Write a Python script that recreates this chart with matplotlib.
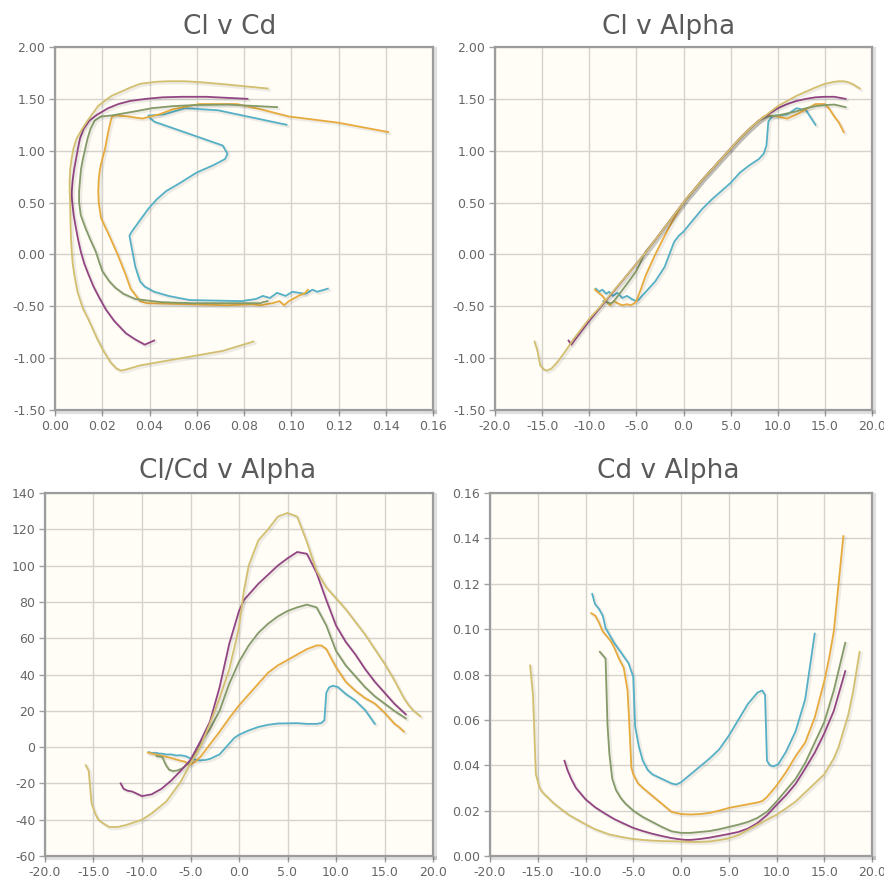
import matplotlib
matplotlib.use("Agg")
import matplotlib.pyplot as plt
import matplotlib.patheffects as pe
from matplotlib.ticker import MultipleLocator, FormatStrFormatter

plt.rcParams['font.family'] = ['DejaVu Sans']
plt.rcParams['axes.unicode_minus'] = False

# ---------------- data ----------------
# khaki series
alpha_khaki = [-15.8, -15.5, -15.2, -14.8, -14.5, -14.0, -13.4, -12.5, -11.7, -10.0,
               -9.0, -7.5, -6.0, -5.0, -4.0, -3.0, -2.0, -1.0, 0.0, 0.5,
               1.0, 2.0, 3.0, 4.0, 5.0, 6.0, 7.0, 8.0, 9.0, 10.0,
               11.0, 12.0, 13.0, 14.0, 15.0, 16.0, 16.5, 17.0, 17.5, 18.0, 18.7]
cl_khaki = [-0.84, -0.93, -1.07, -1.11, -1.12, -1.10, -1.04, -0.93, -0.82, -0.62,
            -0.52, -0.36, -0.20, -0.09, 0.02, 0.14, 0.26, 0.38, 0.50, 0.56,
            0.61, 0.72, 0.82, 0.92, 1.02, 1.12, 1.21, 1.29, 1.36, 1.43,
            1.48, 1.53, 1.57, 1.61, 1.645, 1.665, 1.67, 1.67, 1.66, 1.64, 1.60]
cd_khaki = [0.084, 0.071, 0.036, 0.030, 0.028, 0.026, 0.0235, 0.0205, 0.018, 0.014,
            0.0118, 0.0095, 0.0082, 0.0075, 0.0071, 0.0068, 0.0066, 0.0065, 0.0064, 0.0063,
            0.0062, 0.0062, 0.0064, 0.0070, 0.0078, 0.0092, 0.0115, 0.0138, 0.0160, 0.0182,
            0.021, 0.024, 0.028, 0.032, 0.036, 0.043, 0.048, 0.055, 0.062, 0.072, 0.090]
clcd_khaki = [-10, -13, -31, -37, -40, -42, -44, -44, -43, -40,
              -36.5, -30, -19, -9, 0, 13, 27, 43, 66, 86,
              100, 114, 120, 127, 129, 127, 113, 97, 88, 82,
              76, 69, 62, 54, 46, 37, 32, 27, 23, 20, 17]

# purple series
alpha_purple = [-12.2, -11.9, -11.5, -11.0, -10.0, -9.0, -8.0, -7.0, -6.0, -5.0,
                -4.0, -3.0, -2.0, -1.0, 0.0, 0.5, 1.0, 2.0, 3.0, 4.0,
                5.0, 6.0, 7.0, 8.0, 9.0, 10.0, 11.0, 12.0, 13.0, 14.0,
                15.0, 16.0, 17.2]
cl_purple = [-0.83, -0.87, -0.82, -0.76, -0.64, -0.53, -0.42, -0.31, -0.20, -0.09,
             0.02, 0.14, 0.26, 0.38, 0.50, 0.56, 0.61, 0.72, 0.82, 0.92,
             1.02, 1.12, 1.21, 1.29, 1.35, 1.41, 1.45, 1.48, 1.50, 1.515,
             1.52, 1.52, 1.50]
cd_purple = [0.042, 0.038, 0.034, 0.030, 0.025, 0.0215, 0.0188, 0.0163, 0.0143, 0.0124,
             0.011, 0.0098, 0.0088, 0.0079, 0.0073, 0.0071, 0.0071, 0.0075, 0.0081, 0.0089,
             0.0097, 0.0106, 0.0121, 0.0145, 0.018, 0.0225, 0.0268, 0.0318, 0.0385, 0.0455,
             0.054, 0.064, 0.0815]
clcd_purple = [-20, -23, -24, -24.5, -27, -26, -23, -18.5, -13, -7,
               3, 14, 33, 57, 75, 81, 84, 90, 95, 100,
               104, 107.5, 106.5, 96, 81, 67, 58, 51, 43, 36,
               30, 24, 18]

# olive green series
alpha_green = [-8.5, -8.1, -7.9, -7.7, -7.5, -7.2, -6.8, -6.3, -5.8, -5.0,
               -4.0, -3.0, -2.0, -1.0, 0.0, 1.0, 2.0, 3.0, 4.0, 5.0,
               6.0, 7.0, 8.0, 9.0, 10.0, 11.0, 12.0, 13.0, 14.0, 15.0,
               16.0, 17.2]
cl_green = [-0.45, -0.46, -0.47, -0.47, -0.46, -0.43, -0.38, -0.32, -0.26, -0.16,
            0.03, 0.14, 0.26, 0.38, 0.50, 0.61, 0.72, 0.82, 0.92, 1.02,
            1.12, 1.21, 1.29, 1.33, 1.34, 1.36, 1.38, 1.41, 1.43, 1.44,
            1.445, 1.42]
cd_green = [0.090, 0.088, 0.087, 0.058, 0.045, 0.034, 0.029, 0.0255, 0.023, 0.020,
            0.0172, 0.015, 0.0128, 0.0109, 0.0102, 0.0102, 0.0106, 0.011, 0.0118, 0.0128,
            0.0138, 0.015, 0.0168, 0.0195, 0.024, 0.029, 0.034, 0.041, 0.050, 0.059,
            0.073, 0.094]
clcd_green = [-5, -5.2, -5.5, -8, -10.2, -12.5, -13.2, -12.8, -11.5, -8,
              2, 10, 20, 35, 47, 56, 63, 68, 72, 75,
              77, 78.5, 77, 67, 53, 45, 39, 33, 28, 24,
              20, 15.8]

# orange series
alpha_orange = [-9.4, -9.0, -8.6, -8.2, -7.8, -7.4, -7.0, -6.5, -6.0, -5.6,
                -5.4, -5.2, -5.0, -4.5, -4.0, -3.0, -2.0, -1.0, 0.0, 1.0,
                2.0, 3.0, 4.0, 5.0, 6.0, 7.0, 8.0, 8.5, 9.0, 10.0,
                11.0, 12.0, 13.0, 14.0, 15.0, 15.5, 16.0, 16.5, 17.0]
cl_orange = [-0.34, -0.37, -0.40, -0.45, -0.49, -0.45, -0.47, -0.49, -0.48, -0.49,
             -0.48, -0.47, -0.45, -0.33, -0.20, 0.00, 0.18, 0.35, 0.50, 0.61,
             0.72, 0.82, 0.92, 1.02, 1.12, 1.21, 1.29, 1.33, 1.34, 1.33,
             1.31, 1.35, 1.40, 1.45, 1.45, 1.40, 1.33, 1.27, 1.18]
cd_orange = [0.107, 0.106, 0.103, 0.099, 0.097, 0.095, 0.092, 0.087, 0.083, 0.073,
             0.057, 0.039, 0.036, 0.032, 0.030, 0.0265, 0.023, 0.0195, 0.0185, 0.0183,
             0.0185, 0.019, 0.020, 0.0212, 0.022, 0.0228, 0.0236, 0.0242, 0.026, 0.031,
             0.037, 0.044, 0.050, 0.061, 0.077, 0.087, 0.099, 0.120, 0.141]
clcd_orange = [-3, -3.5, -4, -4.5, -5, -5.5, -6, -6.8, -7.5, -8,
               -8.6, -9.5, -9.5, -8, -5.5, 1.5, 8.5, 16, 23, 29,
               35, 41, 45, 48, 51, 54, 56, 56, 54, 44,
               36, 31, 27, 24, 19, 16, 13, 11, 8.5]

# teal series
alpha_teal = [-9.3, -9.0, -8.6, -8.2, -7.9, -7.5, -7.0, -6.5, -6.0, -5.5,
              -5.0, -4.8, -4.4, -4.0, -3.5, -3.0, -2.0, -1.0, -0.5, 0.0,
              1.0, 2.0, 3.0, 4.0, 5.0, 6.0, 7.0, 8.0, 8.5, 8.8,
              9.0, 9.3, 9.7, 10.2, 11.0, 12.0, 13.0, 14.0]
cl_teal = [-0.33, -0.36, -0.34, -0.38, -0.36, -0.40, -0.37, -0.42, -0.40, -0.43,
           -0.45, -0.44, -0.40, -0.36, -0.31, -0.26, -0.12, 0.12, 0.18, 0.22,
           0.33, 0.44, 0.53, 0.61, 0.69, 0.79, 0.86, 0.92, 0.97, 1.05,
           1.28, 1.32, 1.34, 1.34, 1.35, 1.41, 1.39, 1.25]
cd_teal = [0.1155, 0.111, 0.109, 0.106, 0.1005, 0.0976, 0.094, 0.091, 0.088, 0.085,
           0.079, 0.057, 0.048, 0.042, 0.038, 0.036, 0.034, 0.032, 0.0315, 0.0325,
           0.036, 0.0395, 0.043, 0.047, 0.053, 0.060, 0.067, 0.072, 0.073, 0.071,
           0.042, 0.040, 0.0395, 0.0405, 0.046, 0.055, 0.069, 0.098]
clcd_teal = [-2.8, -3.2, -3.1, -3.6, -3.6, -4.1, -4.0, -4.6, -4.5, -5.0,
             -6.2, -6.6, -7.0, -7.3, -7.1, -6.5, -4.0, 2.0, 5.0, 6.8,
             9.2, 11.1, 12.3, 13.0, 13.1, 13.2, 12.8, 12.8, 13.3, 14.8,
             30, 33, 33.8, 33.1, 29.3, 25.6, 20.4, 12.8]

titles = ["Cl v Cd", "Cl v Alpha", "Cl/Cd v Alpha", "Cd v Alpha"]

series = [
    (alpha_teal, cl_teal, cd_teal, clcd_teal, '#55b0c6'),
    (alpha_orange, cl_orange, cd_orange, clcd_orange, '#e7aa3c'),
    (alpha_green, cl_green, cd_green, clcd_green, '#849a68'),
    (alpha_purple, cl_purple, cd_purple, clcd_purple, '#934583'),
    (alpha_khaki, cl_khaki, cd_khaki, clcd_khaki, '#d3bf70'),
]

# ---------------- figure ----------------
W, H = 884, 882
fig = plt.figure(figsize=(W / 100, H / 100), dpi=100)
fig.patch.set_facecolor('white')


def px_axes(left, right, top, bottom):
    return fig.add_axes([left / W, 1 - bottom / H, (right - left) / W, (bottom - top) / H])


ax_tl = px_axes(55, 433, 47, 410)
ax_tr = px_axes(495, 872, 47, 410)
ax_bl = px_axes(45, 433, 493, 856)
ax_br = px_axes(490, 872, 493, 856)

shadow = [pe.SimpleLineShadow(offset=(1.2, -1.2), shadow_color='k', alpha=0.07, linewidth=2.2),
          pe.Normal()]

for a, cl, cd, clcd, col in series:
    ax_tl.plot(cd, cl, color=col, lw=1.3, path_effects=shadow, solid_joinstyle='round')
    ax_tr.plot(a, cl, color=col, lw=1.3, path_effects=shadow, solid_joinstyle='round')
    ax_bl.plot(a, clcd, color=col, lw=1.3, path_effects=shadow, solid_joinstyle='round')
    ax_br.plot(a, cd, color=col, lw=1.3, path_effects=shadow, solid_joinstyle='round')

ax_tl.set_xlim(0, 0.16)
ax_tl.xaxis.set_major_locator(MultipleLocator(0.02))
ax_tl.xaxis.set_major_formatter(FormatStrFormatter('%.2f'))
for ax in (ax_tl, ax_tr):
    ax.set_ylim(-1.5, 2.0)
    ax.yaxis.set_major_locator(MultipleLocator(0.5))
    ax.yaxis.set_major_formatter(FormatStrFormatter('%.2f'))
for ax in (ax_tr, ax_bl, ax_br):
    ax.set_xlim(-20, 20)
    ax.xaxis.set_major_locator(MultipleLocator(5))
    ax.xaxis.set_major_formatter(FormatStrFormatter('%.1f'))
ax_bl.set_ylim(-60, 140)
ax_bl.yaxis.set_major_locator(MultipleLocator(20))
ax_bl.yaxis.set_major_formatter(FormatStrFormatter('%d'))
ax_br.set_ylim(0, 0.16)
ax_br.yaxis.set_major_locator(MultipleLocator(0.02))
ax_br.yaxis.set_major_formatter(FormatStrFormatter('%.2f'))

frame_shadow = [pe.SimpleLineShadow(offset=(1.5, -1.5), shadow_color='k', alpha=0.12, linewidth=3),
                pe.Normal()]

for ax in (ax_tl, ax_tr, ax_bl, ax_br):
    ax.set_facecolor('#fffdf6')
    ax.grid(True, color='#d6d3cc', lw=1.0)
    ax.set_axisbelow(True)
    for name, sp in ax.spines.items():
        sp.set_color('#9c9c9c')
        sp.set_linewidth(1.6)
        if name in ('right', 'bottom'):
            sp.set_path_effects(frame_shadow)
    ax.tick_params(direction='out', length=4.5, width=1.0, color='#a0a0a0',
                   labelcolor='#666666', labelsize=9, pad=2.5)

title_pos = [(230, 27), (669, 27), (228, 471), (668, 471)]
for t, (x, y) in zip(titles, title_pos):
    fig.text(x / W, 1 - y / H, t, ha='center', va='center', fontsize=19, color='#5a5a5a')

fig.savefig('out.png', dpi=100, facecolor='white')
